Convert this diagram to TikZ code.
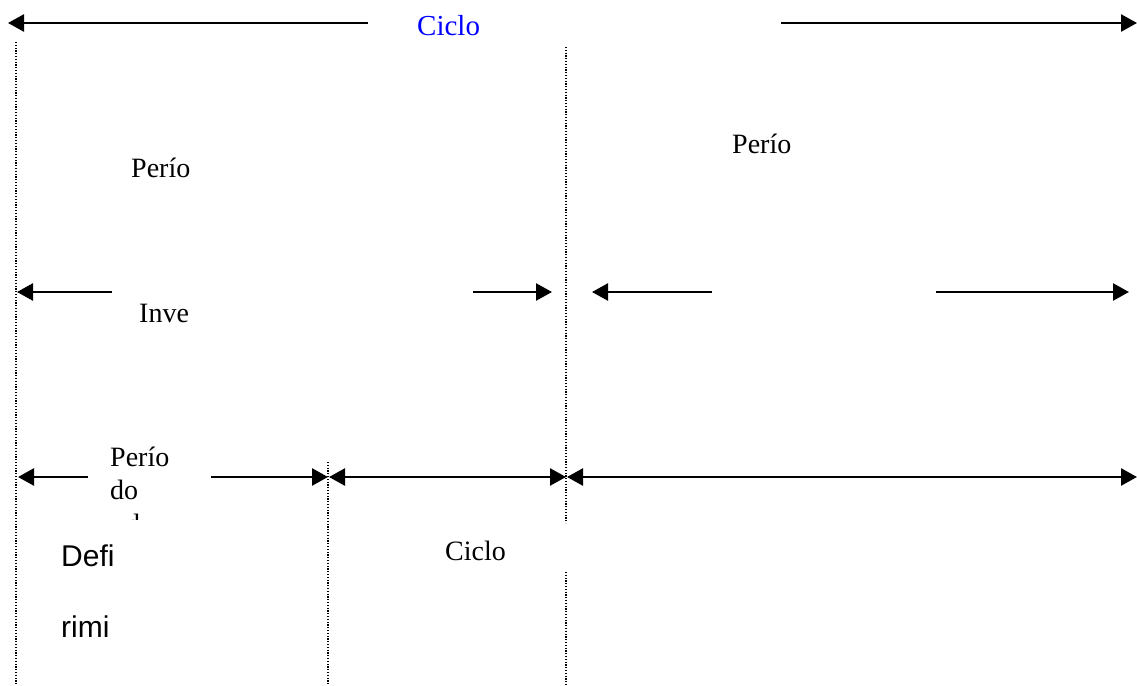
\documentclass[tikz,border=0pt]{standalone}
\usepackage{fontspec}
\setmainfont{Liberation Serif}
\newfontfamily\arialfont{Liberation Sans}
\usetikzlibrary{arrows.meta}
\definecolor{cicloblue}{RGB}{0,0,255}
\tikzset{
  arr/.style={line width=2.5pt, -{Triangle[length=16pt,width=17pt]}},
  dblarr/.style={line width=2.5pt, {Triangle[length=16pt,width=17pt]}-{Triangle[length=16pt,width=17pt]}},
  guide/.style={line width=1.3pt, dash pattern=on 1.2pt off 1.6pt},
  lbl/.style={anchor=base west, inner sep=0pt, font=\fontsize{28}{33}\selectfont},
  lblsans/.style={anchor=base west, inner sep=0pt, font=\arialfont\fontsize{30}{33}\selectfont}
}
\begin{document}
\begin{tikzpicture}[x=1pt,y=-1pt]
\useasboundingbox (0,0) rectangle (1137,685);
% vertical dotted guides
\coordinate (gA1) at (16,42);  \coordinate (gA2) at (16,685);
\coordinate (gB1) at (566,47); \coordinate (gB2) at (566,523);
\coordinate (gB3) at (566,572);\coordinate (gB4) at (566,685);
\coordinate (gC1) at (328,462);\coordinate (gC2) at (328,685);
\draw[guide] (gA1) -- (gA2);
\draw[guide] (gB1) -- (gB2);
\draw[guide] (gB3) -- (gB4);
\draw[guide] (gC1) -- (gC2);
% top row
\coordinate (t1) at (8,23);   \coordinate (t2) at (368,23);
\coordinate (t3) at (781,23); \coordinate (t4) at (1137,23);
\draw[arr] (t2) -- (t1);
\draw[arr] (t3) -- (t4);
\node[lbl, text=cicloblue, font=\fontsize{29}{33}\selectfont] (ciclotop) at (417,36) {Ciclo};
% period labels
\node[lbl] (periodL) at (131,177) {Perío};
\node[lbl] (periodR) at (732,153) {Perío};
% second row
\coordinate (r1) at (17,292);  \coordinate (r2) at (112,292);
\coordinate (r3) at (473,292); \coordinate (r4) at (552,292);
\coordinate (r5) at (592,292); \coordinate (r6) at (712,292);
\coordinate (r7) at (936,292); \coordinate (r8) at (1129,292);
\draw[arr] (r2) -- (r1);
\draw[arr] (r3) -- (r4);
\draw[arr] (r6) -- (r5);
\draw[arr] (r7) -- (r8);
\node[lbl] (inve) at (139,322) {Inve};
% third row
\coordinate (s1) at (18,477);  \coordinate (s2) at (88,477);
\coordinate (s3) at (211,477); \coordinate (s4) at (328,477);
\coordinate (s5) at (329,477); \coordinate (s6) at (566,477);
\coordinate (s7) at (567,477); \coordinate (s8) at (1137,477);
\draw[arr] (s2) -- (s1);
\draw[arr] (s3) -- (s4);
\draw[dblarr] (s5) -- (s6);
\draw[dblarr] (s7) -- (s8);
\node[lbl] (period3a) at (110,466) {Perío};
\node[lbl] (period3b) at (110,499) {do};
\begin{scope}
  \clip (100,440) rectangle (200,519);
  \node[lbl] (period3c) at (126,533) {d};
\end{scope}
% bottom labels
\node[lblsans] (defi) at (61,566) {Defi};
\node[lblsans] (rimi) at (61,637) {rimi};
\node[lbl] (ciclobottom) at (445,560) {Ciclo};
\end{tikzpicture}
\end{document}
